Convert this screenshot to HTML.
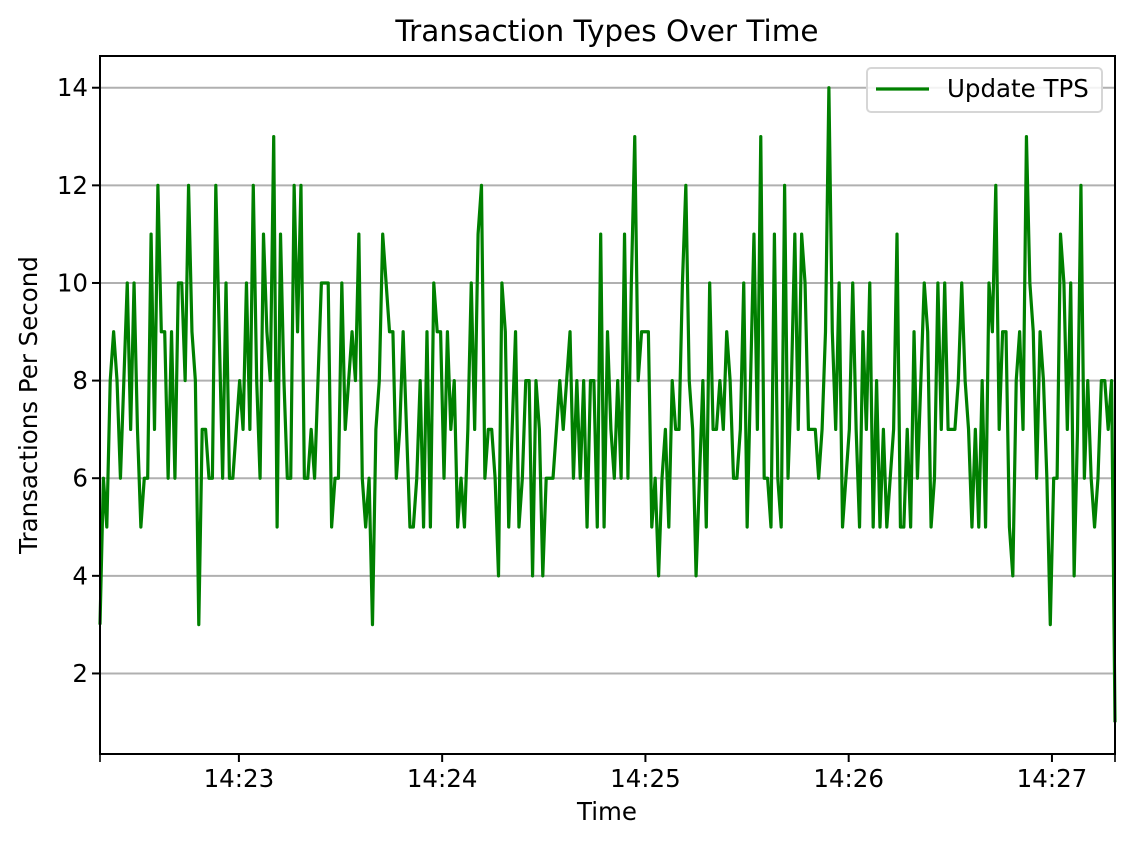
<!DOCTYPE html>
<html><head><meta charset="utf-8"><style>
body{margin:0;background:#fff;}
svg text{font-family:"DejaVu Sans","Liberation Sans",sans-serif;fill:#000;}
</style></head><body>
<svg id="chart" width="1132" height="843" xmlns="http://www.w3.org/2000/svg">
<rect width="1132" height="843" fill="#fff"/>
<text x="607" y="41" font-size="29.5" text-anchor="middle">Transaction Types Over Time</text>
<g id="grid"></g>
<g id="series"></g>
<rect x="100" y="56" width="1015" height="698" fill="none" stroke="#000" stroke-width="2"/>
<g id="axes"></g>
<text x="607" y="820" font-size="24.5" text-anchor="middle">Time</text>
<text transform="translate(37,405) rotate(-90)" font-size="24.5" text-anchor="middle">Transactions Per Second</text>
<g>
<rect x="867" y="68" width="235" height="44" rx="4" fill="#fff" fill-opacity="0.85" stroke="#d6d6d6" stroke-width="2"/>
<line x1="876" y1="89" x2="929" y2="89" stroke="#008000" stroke-width="3.3"/>
<text x="947" y="97" font-size="24.5">Update TPS</text>
</g>
</svg>
<script>
const tpsValues=[3,6,5,8,9,8,6,8,10,7,10,7,5,6,6,11,7,12,9,9,6,9,6,10,10,8,12,9,8,3,7,7,6,6,12,9,6,10,6,6,7,8,7,10,7,12,8,6,11,9,8,13,
5,11,8,6,6,12,9,12,6,6,7,6,8,10,10,10,5,6,6,10,7,8,9,8,11,6,5,6,3,7,8,11,10,9,9,6,7,9,7,5,5,6,8,5,9,5,10,9,9,6,
9,7,8,5,6,5,7,10,7,11,12,6,7,7,6,4,10,9,5,7,9,5,6,8,8,4,8,7,4,6,6,6,7,8,7,8,9,6,8,6,8,5,8,8,5,11,5,9,7,6,
8,6,11,6,10,13,8,9,9,9,5,6,4,6,7,5,8,7,7,10,12,8,7,4,6,8,5,10,7,7,8,7,9,8,6,6,7,10,5,8,11,7,13,6,6,5,11,6,5,12,
6,8,11,7,11,10,7,7,7,6,7,9,14,9,7,10,5,6,7,10,7,5,9,7,10,5,8,5,7,5,6,7,11,5,5,7,5,9,6,8,10,9,5,6,10,7,10,7,7,7,
8,10,8,7,5,7,5,8,5,10,9,12,7,9,9,5,4,8,9,7,13,10,9,6,9,8,6,3,6,6,11,10,7,10,4,7,12,6,8,6,5,6,8,8,7,8,1];
const startSeconds=14*3600+22*60+19;   // 14:22:19
const sampleStep=1.0054;               // seconds per sample
const yTicks=[2,4,6,8,10,12,14];
const xTickLabels=["14:23","14:24","14:25","14:26","14:27"];
const xTickSeconds=[14*3600+23*60,14*3600+24*60,14*3600+25*60,14*3600+26*60,14*3600+27*60];

const NS="http://www.w3.org/2000/svg";
const L=100,R=1115,T=56,B=754;
const times=tpsValues.map((v,i)=>startSeconds+i*sampleStep);
const tMin=times[0],tMax=times[times.length-1];
const vMin=Math.min(...tpsValues),vMax=Math.max(...tpsValues),pad=(vMax-vMin)*0.05;
const yLo=vMin-pad,yHi=vMax+pad;
const xS=t=>L+(t-tMin)/(tMax-tMin)*(R-L);
const yS=v=>B-(v-yLo)/(yHi-yLo)*(B-T);
function mk(tag,attrs,parent){const e=document.createElementNS(NS,tag);for(const k in attrs)e.setAttribute(k,attrs[k]);parent.appendChild(e);return e;}
const grid=document.getElementById('grid'),axes=document.getElementById('axes'),series=document.getElementById('series');
yTicks.forEach(v=>{
  const y=yS(v);
  const g=mk('line',{x1:L,x2:R,y1:y,y2:y,stroke:'#b0b0b0','stroke-width':2},grid);
  
  
  const tk=mk('line',{x1:L-8,x2:L,y1:y,y2:y,stroke:'#000','stroke-width':2},axes);
  
  
  const tx=mk('text',{x:L-12,y:y+8.5,'font-size':24.5,'text-anchor':'end'},axes);
  tx.textContent=v;
  
  
});
xTickSeconds.forEach((s,i)=>{
  const x=xS(s);
  const tk=mk('line',{x1:x,x2:x,y1:B,y2:B+8,stroke:'#000','stroke-width':2},axes);
  
  
  const tx=mk('text',{x:x,y:B+33,'font-size':24.5,'text-anchor':'middle'},axes);
  tx.textContent=xTickLabels[i];
  
  
});
[L,R].forEach(x=>{
  const tk=mk('line',{x1:x,x2:x,y1:B,y2:B+8,stroke:'#000','stroke-width':1.6},axes);
  
  
});
const pts=tpsValues.map((v,i)=>xS(times[i]).toFixed(2)+','+yS(v).toFixed(2)).join(' ');
const line=mk('polyline',{points:pts,fill:'none',stroke:'#008000','stroke-width':3.2,'stroke-linejoin':'round'},series);


</script>
</body></html>
